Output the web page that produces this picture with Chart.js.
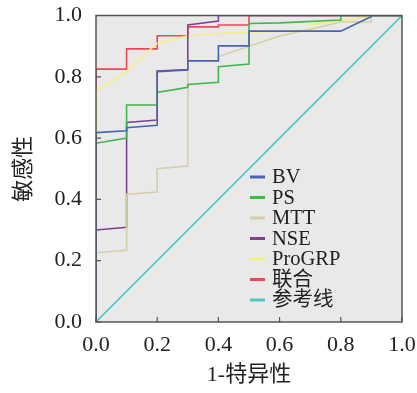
<!DOCTYPE html>
<html>
<head>
<meta charset="utf-8">
<script src="https://cdn.jsdelivr.net/npm/chart.js@4/dist/chart.umd.min.js"></script>
<style>
  html, body { margin: 0; padding: 0; background: #ffffff; }
  #wrap { width: 417px; height: 393px; }
</style>
</head>
<body>
<div id="wrap"><canvas id="roc"></canvas></div>
<script>
// 1-特异性 (x) and 敏感性 (y) for each curve
const seriesNames = ["BV", "PS", "MTT", "NSE", "ProGRP", "联合", "参考线"];
const seriesColors = ["#4a64b4", "#40b84c", "#d4cfa4", "#7f4394", "#f3ef86", "#ea4a55", "#52c6c8"];

const bvX = [0, 0, 0.1, 0.1, 0.2, 0.2, 0.3, 0.3, 0.4, 0.4, 0.5, 0.5, 0.8, 0.9, 0.9, 1];
const bvY = [0, 0.618, 0.624, 0.634, 0.642, 0.817, 0.822, 0.852, 0.852, 0.901, 0.901, 0.949, 0.949, 0.997, 1, 1];

const psX = [0, 0, 0.1, 0.1, 0.2, 0.2, 0.3, 0.3, 0.4, 0.4, 0.5, 0.5, 0.6, 0.8, 0.8, 1];
const psY = [0, 0.583, 0.6, 0.708, 0.708, 0.749, 0.766, 0.775, 0.782, 0.833, 0.842, 0.974, 0.976, 0.985, 1, 1];

const mttX = [0, 0, 0.1, 0.1, 0.2, 0.2, 0.3, 0.3, 0.4, 0.4, 0.6, 0.7, 0.8, 0.9, 0.9, 1];
const mttY = [0, 0.226, 0.234, 0.417, 0.424, 0.5, 0.509, 0.852, 0.852, 0.866, 0.933, 0.955, 0.979, 0.98, 1, 1];

const nseX = [0, 0, 0.1, 0.1, 0.2, 0.2, 0.3, 0.3, 0.4, 0.4, 1];
const nseY = [0, 0.3, 0.309, 0.651, 0.659, 0.819, 0.824, 0.969, 0.982, 1, 1];

const proX = [0, 0, 0.1, 0.163, 0.2, 0.3, 0.4, 0.5, 0.7, 0.7, 0.895, 0.9, 1];
const proY = [0, 0.755, 0.817, 0.877, 0.909, 0.934, 0.942, 0.945, 0.953, 0.969, 0.997, 1, 1];

const comboX = [0, 0, 0.1, 0.1, 0.2, 0.2, 0.3, 0.3, 0.4, 0.4, 0.5, 0.5, 1];
const comboY = [0, 0.825, 0.825, 0.891, 0.891, 0.934, 0.934, 0.963, 0.963, 0.969, 0.969, 1, 1];

const refX = [0, 1];
const refY = [0, 1];

const axisTicks = [0, 0.2, 0.4, 0.6, 0.8, 1.0];

const allX = [bvX, psX, mttX, nseX, proX, comboX, refX];
const allY = [bvY, psY, mttY, nseY, proY, comboY, refY];

const serif = "'Liberation Serif', 'Noto Sans CJK SC', serif";

function toPoints(xs, ys) {
    return xs.map((x, i) => ({ x: x, y: ys[i] }));
}

const datasets = seriesNames.map((name, i) => ({
    label: name,
    data: toPoints(allX[i], allY[i]),
    borderColor: seriesColors[i],
    backgroundColor: seriesColors[i],
    borderWidth: 1.6,
    pointRadius: 0,
    fill: false,
    tension: 0
}));

// plot background, frame, inner ticks
const framePlugin = {
    id: "frame",
    beforeDatasetsDraw(chart) {
        const { ctx, chartArea: a } = chart;
        ctx.save();
        ctx.fillStyle = "#e9e9e9";
        ctx.fillRect(a.left, a.top, a.right - a.left, a.bottom - a.top);
        ctx.restore();
    },
    afterDatasetsDraw(chart) {
        const { ctx, chartArea: a, scales } = chart;
        ctx.save();
        ctx.strokeStyle = "#555555";
        ctx.lineWidth = 1.5;
        ctx.strokeRect(a.left, a.top, a.right - a.left, a.bottom - a.top);
        ctx.lineWidth = 1.2;
        ctx.beginPath();
        axisTicks.forEach(v => {
            const px = scales.x.getPixelForValue(v);
            ctx.moveTo(px, a.bottom);
            ctx.lineTo(px, a.bottom - 5);
            const py = scales.y.getPixelForValue(v);
            ctx.moveTo(a.left, py);
            ctx.lineTo(a.left + 5, py);
        });
        ctx.stroke();

        // legend inside the plot
        ctx.font = "20.5px " + serif;
        ctx.textBaseline = "middle";
        ctx.textAlign = "left";
        chart.data.datasets.forEach((ds, i) => {
            const y = 177 + i * 20.5;
            ctx.strokeStyle = ds.borderColor;
            ctx.lineWidth = 3;
            ctx.beginPath();
            ctx.moveTo(250, y);
            ctx.lineTo(265, y);
            ctx.stroke();
            ctx.fillStyle = "#222222";
            ctx.fillText(ds.label, 272, y + 1);
        });
        ctx.restore();
    }
};

new Chart(document.getElementById("roc"), {
    type: "line",
    data: { datasets },
    options: {
        responsive: true,
        maintainAspectRatio: false,
        animation: false,
        layout: { padding: { top: 15.5, right: 15, left: 0, bottom: 0 } },
        plugins: { legend: { display: false }, tooltip: { enabled: false } },
        scales: {
            x: {
                type: "linear",
                min: 0,
                max: 1,
                afterFit: s => { s.height = 71; s.paddingLeft = 0; s.paddingRight = 0; },
                afterBuildTicks: s => { s.ticks = axisTicks.map(v => ({ value: v })); },
                grid: { display: false, drawTicks: false },
                border: { display: false },
                ticks: {
                    padding: 10,
                    color: "#222222",
                    font: { family: serif, size: 22 },
                    callback: v => v.toFixed(1)
                },
                title: {
                    display: true,
                    text: "1-特异性",
                    color: "#222222",
                    font: { family: serif, size: 22 },
                    padding: { top: 0, bottom: 5 }
                }
            },
            y: {
                type: "linear",
                min: 0,
                max: 1,
                afterFit: s => { s.width = 96; s.paddingTop = 0; s.paddingBottom = 0; },
                afterBuildTicks: s => { s.ticks = axisTicks.map(v => ({ value: v })); },
                grid: { display: false, drawTicks: false },
                border: { display: false },
                ticks: {
                    padding: 14,
                    color: "#222222",
                    font: { family: serif, size: 22 },
                    callback: v => v.toFixed(1)
                },
                title: {
                    display: true,
                    text: "敏感性",
                    color: "#222222",
                    font: { family: serif, size: 22 },
                    padding: { top: 11, bottom: 0 }
                }
            }
        }
    },
    plugins: [framePlugin]
});
</script>
</body>
</html>
